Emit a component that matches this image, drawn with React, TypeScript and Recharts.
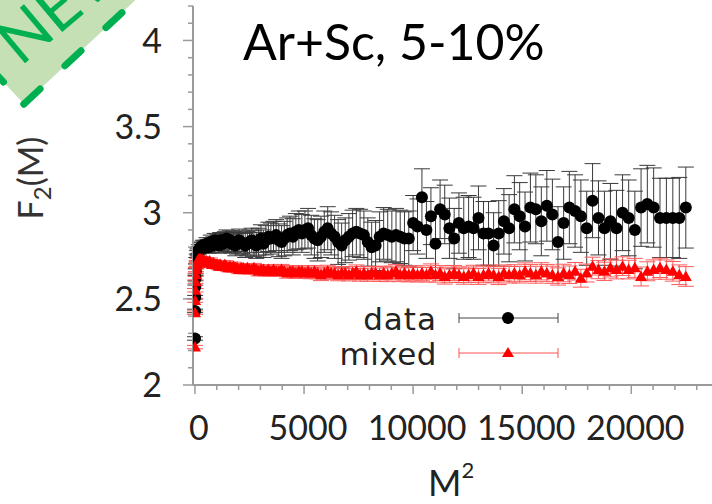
import { ScatterChart, Scatter, XAxis, YAxis, ErrorBar } from 'recharts'

// M^2 bin centres (M = 1..150)
const m2 = [
  1, 4, 9, 16, 25, 36, 49, 64, 81, 100,
  121, 144, 169, 196, 225, 256, 289, 324, 361, 400,
  441, 484, 529, 576, 625, 676, 729, 784, 841, 900,
  961, 1024, 1089, 1156, 1225, 1296, 1369, 1444, 1521, 1600,
  1681, 1764, 1849, 1936, 2025, 2116, 2209, 2304, 2401, 2500,
  2601, 2704, 2809, 2916, 3025, 3136, 3249, 3364, 3481, 3600,
  3721, 3844, 3969, 4096, 4225, 4356, 4489, 4624, 4761, 4900,
  5041, 5184, 5329, 5476, 5625, 5776, 5929, 6084, 6241, 6400,
  6561, 6724, 6889, 7056, 7225, 7396, 7569, 7744, 7921, 8100,
  8281, 8464, 8649, 8836, 9025, 9216, 9409, 9604, 9801, 10000,
  10201, 10404, 10609, 10816, 11025, 11236, 11449, 11664, 11881, 12100,
  12321, 12544, 12769, 12996, 13225, 13456, 13689, 13924, 14161, 14400,
  14641, 14884, 15129, 15376, 15625, 15876, 16129, 16384, 16641, 16900,
  17161, 17424, 17689, 17956, 18225, 18496, 18769, 19044, 19321, 19600,
  19881, 20164, 20449, 20736, 21025, 21316, 21609, 21904, 22201, 22500,
]

const dataF2 = [
  2.27, 2.43, 2.51, 2.57, 2.62, 2.66, 2.69, 2.72, 2.74, 2.76,
  2.77, 2.78, 2.78, 2.79, 2.79, 2.80, 2.79, 2.80, 2.81, 2.80,
  2.81, 2.80, 2.82, 2.81, 2.80, 2.82, 2.83, 2.81, 2.82, 2.84,
  2.82, 2.83, 2.81, 2.84, 2.83, 2.82, 2.84, 2.85, 2.83, 2.84,
  2.82, 2.83, 2.81, 2.82, 2.84, 2.83, 2.82, 2.81, 2.82, 2.83,
  2.84, 2.82, 2.81, 2.83, 2.85, 2.82, 2.84, 2.86, 2.85, 2.86,
  2.87, 2.84, 2.83, 2.85, 2.87, 2.88, 2.86, 2.89, 2.90, 2.88,
  2.90, 2.91, 2.87, 2.85, 2.84, 2.86, 2.89, 2.91, 2.88, 2.86,
  2.83, 2.81, 2.84, 2.86, 2.88, 2.89, 2.88, 2.87, 2.83, 2.80,
  2.81, 2.86, 2.88, 2.87, 2.86, 2.87, 2.86, 2.85, 2.85, 2.94,
  2.92, 3.09, 2.90, 2.98, 2.82, 3.02, 2.99, 2.91, 2.85, 2.94,
  2.91, 2.92, 2.91, 2.97, 2.88, 2.88, 2.81, 2.88, 2.95, 2.91,
  3.02, 2.98, 2.92, 3.03, 3.02, 2.95, 3.04, 2.99, 2.83, 2.94,
  3.03, 3.01, 2.98, 2.91, 3.07, 2.97, 2.91, 2.95, 2.91, 3.00,
  2.97, 2.90, 3.03, 3.05, 3.03, 2.97, 2.97, 2.97, 2.97, 3.03,
]

const dataErr = [
  0.01, 0.01, 0.01, 0.01, 0.015, 0.015, 0.015, 0.02, 0.02, 0.02,
  0.02, 0.02, 0.02, 0.025, 0.025, 0.025, 0.025, 0.03, 0.03, 0.03,
  0.03, 0.03, 0.035, 0.035, 0.035, 0.035, 0.04, 0.04, 0.04, 0.04,
  0.04, 0.045, 0.045, 0.045, 0.05, 0.05, 0.05, 0.05, 0.055, 0.055,
  0.055, 0.06, 0.06, 0.06, 0.065, 0.065, 0.065, 0.07, 0.07, 0.07,
  0.07, 0.075, 0.075, 0.08, 0.08, 0.08, 0.085, 0.085, 0.09, 0.09,
  0.09, 0.095, 0.095, 0.1, 0.1, 0.1, 0.105, 0.105, 0.11, 0.11,
  0.11, 0.115, 0.115, 0.115, 0.12, 0.12, 0.12, 0.125, 0.125, 0.125,
  0.13, 0.13, 0.13, 0.135, 0.135, 0.135, 0.14, 0.14, 0.14, 0.145,
  0.145, 0.145, 0.15, 0.15, 0.15, 0.155, 0.155, 0.155, 0.16, 0.16,
  0.16, 0.165, 0.165, 0.165, 0.17, 0.17, 0.17, 0.175, 0.175, 0.175,
  0.18, 0.18, 0.18, 0.185, 0.185, 0.185, 0.19, 0.19, 0.19, 0.195,
  0.195, 0.195, 0.2, 0.2, 0.2, 0.2, 0.205, 0.205, 0.205, 0.21,
  0.21, 0.21, 0.21, 0.215, 0.215, 0.215, 0.215, 0.22, 0.22, 0.22,
  0.22, 0.225, 0.225, 0.225, 0.23, 0.23, 0.23, 0.23, 0.235, 0.235,
]

const mixedF2 = [
  2.22, 2.42, 2.49, 2.55, 2.60, 2.64, 2.67, 2.69, 2.70, 2.71,
  2.72, 2.72, 2.73, 2.73, 2.73, 2.73, 2.72, 2.73, 2.72, 2.72,
  2.72, 2.71, 2.72, 2.71, 2.71, 2.72, 2.71, 2.70, 2.71, 2.70,
  2.70, 2.70, 2.69, 2.70, 2.69, 2.69, 2.70, 2.69, 2.68, 2.69,
  2.68, 2.69, 2.68, 2.68, 2.67, 2.68, 2.68, 2.67, 2.68, 2.67,
  2.67, 2.68, 2.67, 2.66, 2.67, 2.67, 2.66, 2.67, 2.66, 2.67,
  2.66, 2.66, 2.67, 2.66, 2.65, 2.66, 2.66, 2.65, 2.66, 2.66,
  2.65, 2.66, 2.65, 2.66, 2.65, 2.64, 2.65, 2.66, 2.65, 2.65,
  2.64, 2.65, 2.65, 2.64, 2.65, 2.66, 2.64, 2.65, 2.64, 2.65,
  2.65, 2.64, 2.65, 2.64, 2.65, 2.66, 2.64, 2.65, 2.64, 2.65,
  2.64, 2.65, 2.64, 2.66, 2.64, 2.65, 2.63, 2.64, 2.65, 2.64,
  2.63, 2.64, 2.65, 2.63, 2.64, 2.65, 2.64, 2.63, 2.65, 2.64,
  2.65, 2.64, 2.66, 2.65, 2.64, 2.66, 2.65, 2.64, 2.63, 2.65,
  2.64, 2.66, 2.62, 2.65, 2.69, 2.67, 2.66, 2.68, 2.67, 2.69,
  2.67, 2.68, 2.63, 2.66, 2.67, 2.68, 2.67, 2.66, 2.64, 2.63,
]

const mixedErr = [
  0.01, 0.01, 0.01, 0.01, 0.01, 0.01, 0.012, 0.012, 0.012, 0.012,
  0.014, 0.014, 0.014, 0.014, 0.015, 0.015, 0.015, 0.015, 0.016, 0.016,
  0.016, 0.017, 0.017, 0.017, 0.018, 0.018, 0.018, 0.019, 0.019, 0.02,
  0.02, 0.02, 0.02, 0.021, 0.021, 0.021, 0.022, 0.022, 0.022, 0.023,
  0.023, 0.023, 0.024, 0.024, 0.024, 0.025, 0.025, 0.025, 0.025, 0.026,
  0.026, 0.026, 0.027, 0.027, 0.027, 0.028, 0.028, 0.028, 0.029, 0.029,
  0.029, 0.03, 0.03, 0.03, 0.03, 0.031, 0.031, 0.031, 0.032, 0.032,
  0.032, 0.033, 0.033, 0.033, 0.034, 0.034, 0.034, 0.035, 0.035, 0.035,
  0.035, 0.036, 0.036, 0.036, 0.037, 0.037, 0.037, 0.038, 0.038, 0.038,
  0.039, 0.039, 0.039, 0.04, 0.04, 0.04, 0.04, 0.041, 0.041, 0.041,
  0.042, 0.042, 0.042, 0.043, 0.043, 0.043, 0.044, 0.044, 0.044, 0.045,
  0.045, 0.045, 0.045, 0.046, 0.046, 0.046, 0.047, 0.047, 0.047, 0.048,
  0.048, 0.048, 0.049, 0.049, 0.049, 0.05, 0.05, 0.05, 0.05, 0.051,
  0.051, 0.051, 0.052, 0.052, 0.052, 0.053, 0.053, 0.053, 0.054, 0.054,
  0.054, 0.055, 0.055, 0.055, 0.056, 0.056, 0.056, 0.057, 0.057, 0.057,
]

const yTicks = [2, 2.1, 2.2, 2.3, 2.4, 2.5, 2.6, 2.7, 2.8, 2.9, 3, 3.1, 3.2, 3.3, 3.4, 3.5, 3.6, 3.7, 3.8, 3.9, 4, 4.1, 4.2]
const yLabels = [2, 2.5, 3, 3.5, 4]
const xTicks = [0, 1000, 2000, 3000, 4000, 5000, 6000, 7000, 8000, 9000, 10000, 11000, 12000, 13000, 14000, 15000, 16000, 17000, 18000, 19000, 20000, 21000, 22000, 23000]
const xLabels = [0, 5000, 10000, 15000, 20000]

const dataPts = m2.map((x, i) => ({ x, y: dataF2[i], err: dataErr[i] }))
const mixedPts = m2.map((x, i) => ({ x, y: mixedF2[i], err: mixedErr[i] }))

const AXIS = '#9a9a9a'
const TICK_FONT = 'Lato, "DejaVu Sans", sans-serif'
const LEGEND_FONT = '"DejaVu Sans", sans-serif'

function YTick(props: any) {
  const { x, y, payload } = props
  const major = yLabels.includes(payload.value)
  return (
    <g>
      <line x1={x - (major ? 10 : 5)} x2={x} y1={y} y2={y} stroke={AXIS} strokeWidth={1.5} />
      {major && (
        <text x={x - 31} y={y} dy="0.36em" textAnchor="end" fontSize={34} fontFamily={TICK_FONT} fill="#222">
          {payload.value}
        </text>
      )}
    </g>
  )
}

function XTick(props: any) {
  const { x, y, payload } = props
  const major = xLabels.includes(payload.value)
  return (
    <g>
      <line x1={x} x2={x} y1={y} y2={y + (major ? 9 : 5)} stroke={AXIS} strokeWidth={1.5} />
      {major && (
        <text x={x + 4} y={y + 55} textAnchor="middle" fontSize={34} fontFamily={TICK_FONT} fill="#222">
          {payload.value}
        </text>
      )}
    </g>
  )
}

const Dot = (p: any) => <circle cx={p.cx} cy={p.cy} r={6} fill="#000" />
const Tri = (p: any) => (
  <polygon points={`${p.cx},${p.cy - 6} ${p.cx + 6},${p.cy + 4.5} ${p.cx - 6},${p.cy + 4.5}`} fill="#ff0000" />
)

function Stamp() {
  return (
    <g>
      <g transform="translate(24,104) rotate(-43)">
        <rect x={0} y={-300} width={340} height={300} fill="#c5e0b4" />
        <line x1={0} y1={0} x2={300} y2={0} stroke="#00b050" strokeWidth={7} strokeLinecap="round" strokeDasharray="22 34" />
        <line x1={0} y1={0} x2={0} y2={-200} stroke="#00b050" strokeWidth={7} strokeLinecap="round" strokeDasharray="0 30 22 34" />
      </g>
      <g transform="translate(24,34) rotate(-40)">
        <text x={-24} y={23} fontSize={64} fontFamily="Lato, sans-serif" fill="#00b050">NEW</text>
      </g>
    </g>
  )
}

function Overlay() {
  return (
    <svg width={712} height={504} style={{ position: 'absolute', left: 0, top: 0, pointerEvents: 'none' }}>
      <Stamp />
      <text x={243} y={60} fontSize={50} fontFamily='Lato, "Open Sans", sans-serif' fill="#000">Ar+Sc, 5-10%</text>
      <text x={43} y={178} transform="rotate(-90, 43, 178)" textAnchor="middle" fontSize={34} fontFamily={TICK_FONT} fill="#333">
        <tspan>F</tspan>
        <tspan fontSize={24} dy={8}>2</tspan>
        <tspan dy={-8}>(M)</tspan>
      </text>
      <text x={428} y={496} fontSize={36} fontFamily={TICK_FONT} fill="#222">
        <tspan>M</tspan>
        <tspan fontSize={22} dy={-18}>2</tspan>
      </text>
      {/* legend */}
      <text x={437} y={330} textAnchor="end" fontSize={31} letterSpacing={1} fontFamily={LEGEND_FONT} fill="#222">data</text>
      <line x1={459} x2={558} y1={318} y2={318} stroke="#444" strokeWidth={1} />
      <line x1={459} x2={459} y1={313} y2={323} stroke="#444" strokeWidth={1} />
      <line x1={558} x2={558} y1={313} y2={323} stroke="#444" strokeWidth={1} />
      <circle cx={508} cy={318} r={6} fill="#000" />
      <text x={437} y={365} textAnchor="end" fontSize={31} letterSpacing={0.5} fontFamily={LEGEND_FONT} fill="#222">mixed</text>
      <line x1={459} x2={558} y1={353} y2={353} stroke="#ff5050" strokeWidth={1} />
      <line x1={459} x2={459} y1={348} y2={358} stroke="#ff5050" strokeWidth={1} />
      <line x1={558} x2={558} y1={348} y2={358} stroke="#ff5050" strokeWidth={1} />
      <polygon points="508,347 514,357 502,357" fill="#ff0000" />
    </svg>
  )
}

export default function App() {
  return (
    <div style={{ position: 'fixed', left: 0, top: 0, width: 712, height: 504, background: '#fff' }}>
      <ScatterChart width={712} height={504} margin={{ top: 6, right: 0, bottom: 0, left: 0 }}>
        <XAxis
          type="number" dataKey="x" domain={[-90, 23700]} allowDataOverflow ticks={xTicks}
          interval={0} tick={<XTick />} tickLine={false} tickSize={0} tickMargin={0}
          axisLine={{ stroke: AXIS, strokeWidth: 2 }} height={119}
        />
        <YAxis
          type="number" dataKey="y" domain={[2, 4.2]} allowDataOverflow ticks={yTicks}
          interval={0} tick={<YTick />} tickLine={false} tickSize={0} tickMargin={0}
          axisLine={{ stroke: AXIS, strokeWidth: 2 }} width={193}
        />
        <Scatter data={dataPts} fill="#000" shape={Dot} isAnimationActive={false}>
          <ErrorBar dataKey="err" direction="y" width={8} stroke="#3a3a3a" strokeWidth={1} />
        </Scatter>
        <Scatter data={mixedPts} fill="#ff0000" shape={Tri} isAnimationActive={false}>
          <ErrorBar dataKey="err" direction="y" width={8} stroke="#ff5a5a" strokeWidth={1} />
        </Scatter>
      </ScatterChart>
      <Overlay />
    </div>
  )
}
